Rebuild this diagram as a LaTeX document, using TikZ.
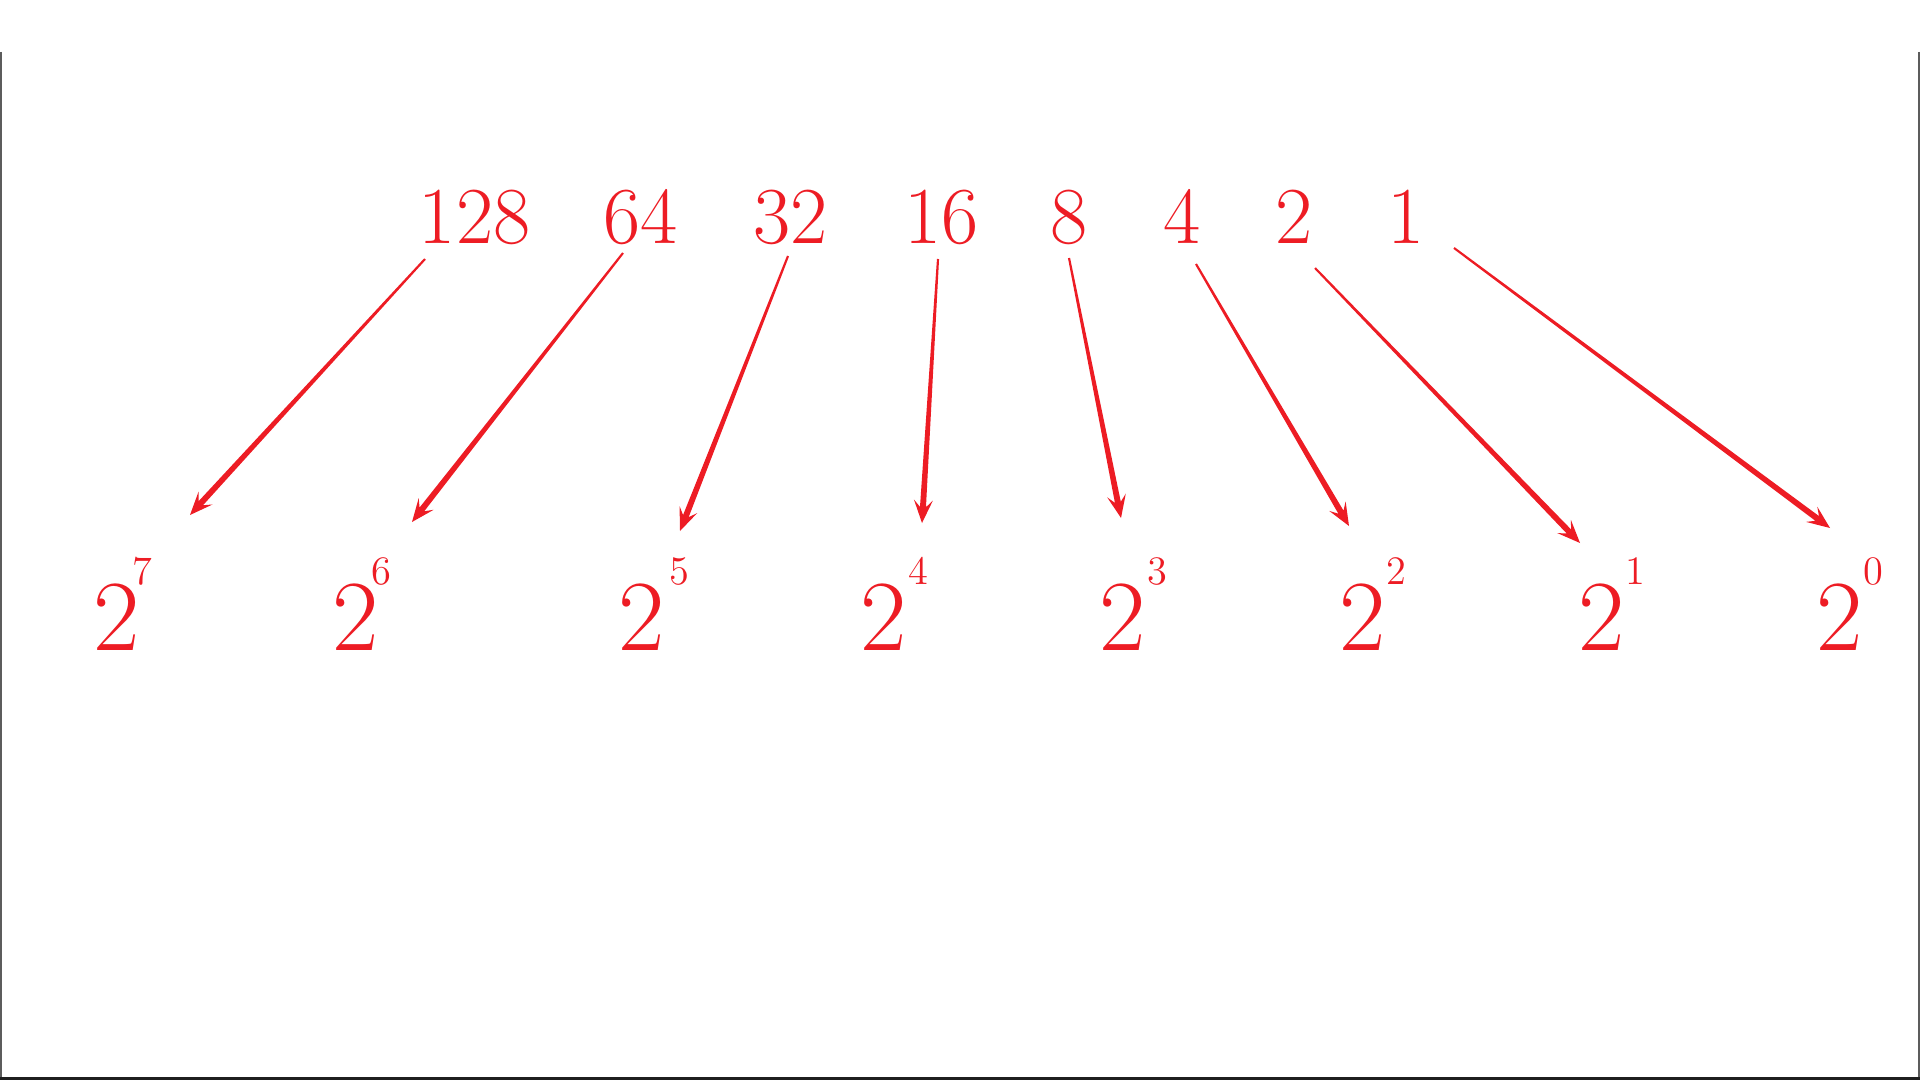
\documentclass[tikz,border=0pt]{standalone}
\usepackage{fontspec}
\usepackage{tikz}
\usetikzlibrary{calc}
\definecolor{powred}{HTML}{ED1C24}
\definecolor{edgegray}{HTML}{5C5C5C}

\newcommand{\powarrow}[2]{%
  \coordinate (pn) at ($(#2)!0.16cm!(#1)$);
  \coordinate (ph) at ($(#2)!0.23cm!(#1)$);
  \fill[powred] ($(#1)!0.3pt!90:(#2)$) -- ($(pn)!0.85pt!90:(#2)$) -- ($(ph)!0.095cm!90:(#2)$) -- (#2)
    -- ($(ph)!0.095cm!-90:(#2)$) -- ($(pn)!0.85pt!-90:(#2)$) -- ($(#1)!0.3pt!-90:(#2)$) -- cycle;}

\begin{document}
\begin{tikzpicture}[
  topnum/.style={anchor=base,inner sep=0pt,text=powred,font=\fontsize{23}{23}\selectfont},
  basetwo/.style={anchor=base,inner sep=0pt,text=powred,font=\fontsize{28.7}{29}\selectfont},
  expo/.style={anchor=base,inner sep=0pt,text=powred,font=\fontsize{11.5}{12}\selectfont}]
\useasboundingbox (0,0) rectangle (19.2,-10.8);
\draw[edgegray,line width=0.6pt] (0.01,-0.52) -- (0.01,-10.78);
\draw[edgegray,line width=0.6pt] (19.19,-0.52) -- (19.19,-10.78);
\draw[black!88,line width=0.8pt] (0,-10.785) -- (19.2,-10.785);

\node[topnum] (n128) at (4.746,-2.433) {128};
\node[topnum] (n64) at (6.404,-2.433) {64};
\node[topnum] (n32) at (7.904,-2.433) {32};
\node[topnum] (n16) at (9.414,-2.433) {16};
\node[topnum] (n8) at (10.693,-2.433) {8};
\node[topnum] (n4) at (11.82,-2.433) {4};
\node[topnum] (n2) at (12.936,-2.433) {2};
\node[topnum] (n1) at (14.063,-2.433) {1};

\node[basetwo] (two7) at (1.17,-6.5) {2};
\node[basetwo] (two6) at (3.56,-6.5) {2};
\node[basetwo] (two5) at (6.42,-6.5) {2};
\node[basetwo] (two4) at (8.84,-6.5) {2};
\node[basetwo] (two3) at (11.23,-6.5) {2};
\node[basetwo] (two2) at (13.63,-6.5) {2};
\node[basetwo] (two1) at (16.02,-6.5) {2};
\node[basetwo] (two0) at (18.40,-6.5) {2};

\node[expo] (e7) at (1.42,-5.845) {7};
\node[expo] (e6) at (3.81,-5.845) {6};
\node[expo] (e5) at (6.79,-5.845) {5};
\node[expo] (e4) at (9.18,-5.845) {4};
\node[expo] (e3) at (11.57,-5.845) {3};
\node[expo] (e2) at (13.96,-5.845) {2};
\node[expo] (e1) at (16.35,-5.845) {1};
\node[expo] (e0) at (18.73,-5.845) {0};

\coordinate (s128) at (4.25,-2.59);
\coordinate (s64) at (6.23,-2.53);
\coordinate (s32) at (7.88,-2.56);
\coordinate (s16) at (9.38,-2.59);
\coordinate (s8) at (10.69,-2.58);
\coordinate (s4) at (11.96,-2.64);
\coordinate (s2) at (13.15,-2.68);
\coordinate (s1) at (14.54,-2.48);
\coordinate (t7) at (1.90,-5.15);
\coordinate (t6) at (4.12,-5.22);
\coordinate (t5) at (6.80,-5.31);
\coordinate (t4) at (9.22,-5.23);
\coordinate (t3) at (11.21,-5.18);
\coordinate (t2) at (13.49,-5.26);
\coordinate (t1) at (15.80,-5.43);
\coordinate (t0) at (18.30,-5.28);

\powarrow{s128}{t7}
\powarrow{s64}{t6}
\powarrow{s32}{t5}
\powarrow{s16}{t4}
\powarrow{s8}{t3}
\powarrow{s4}{t2}
\powarrow{s2}{t1}
\powarrow{s1}{t0}
\end{tikzpicture}
\end{document}
